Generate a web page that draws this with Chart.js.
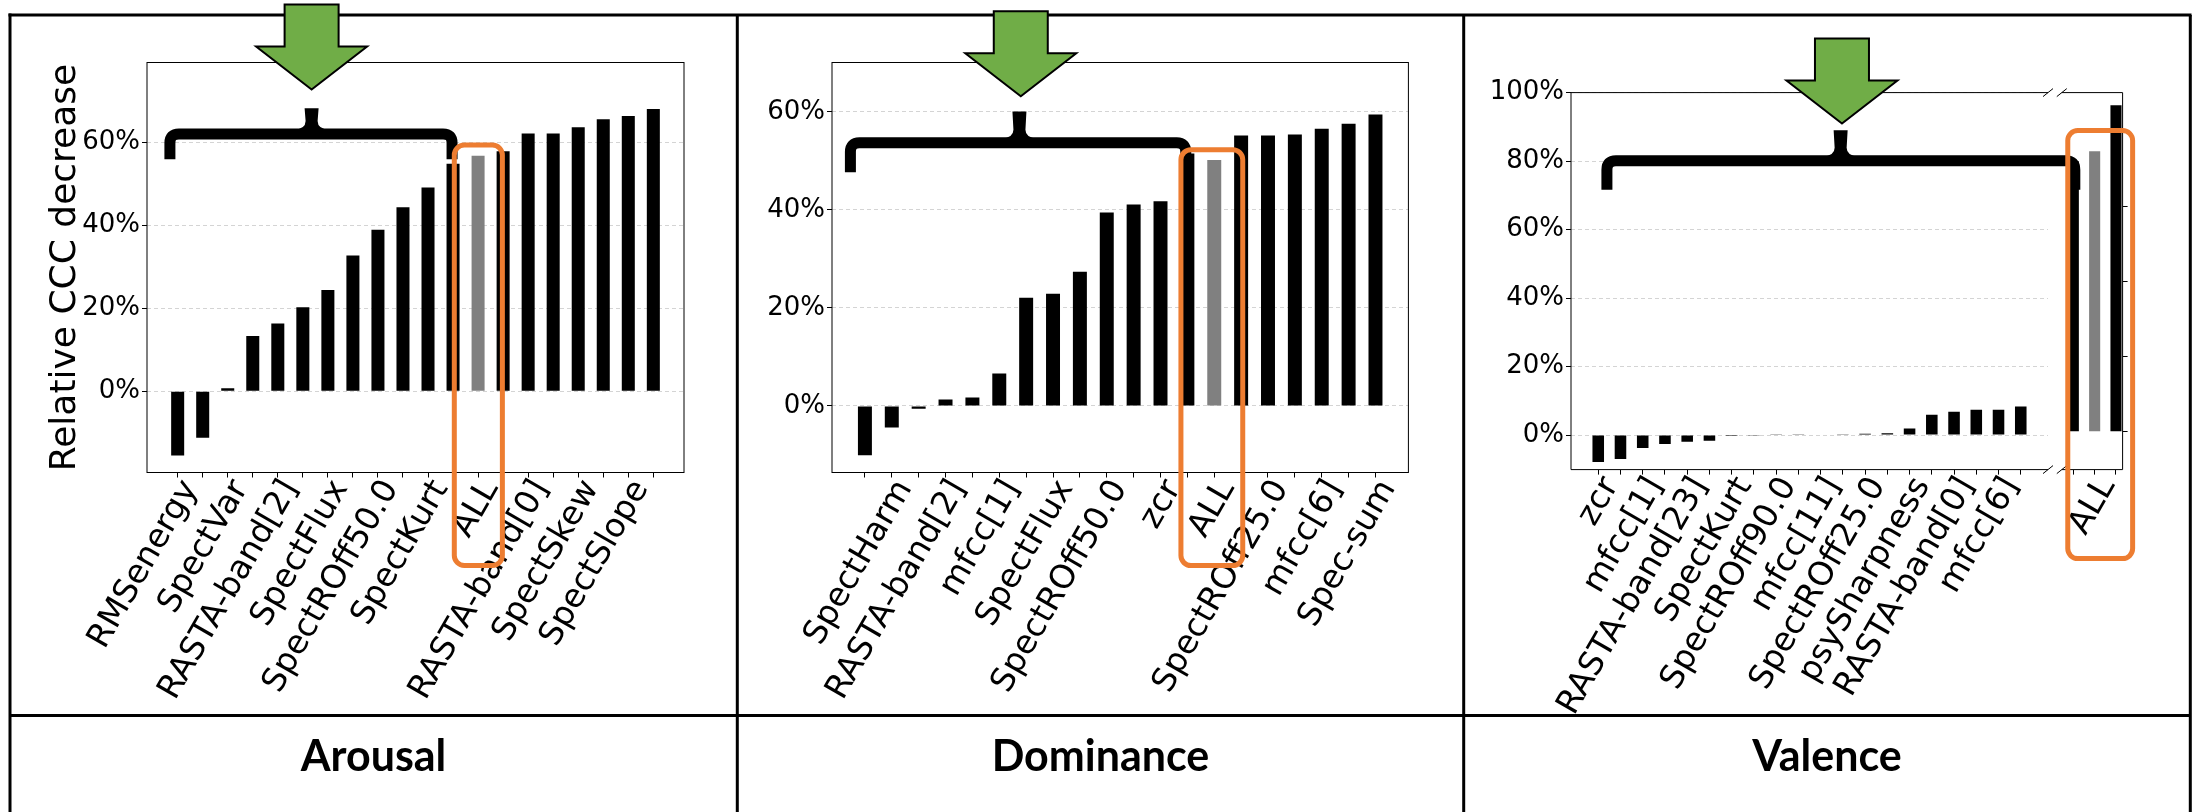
<!DOCTYPE html>
<html>
<head>
<meta charset="utf-8">
<script src="https://cdn.jsdelivr.net/npm/chart.js@4.4.1/dist/chart.umd.min.js"></script>
<style>
  html, body { margin: 0; padding: 0; background: #fff; }
  #page { position: relative; width: 2192px; height: 812px; overflow: hidden; background: #fff; }
  #page canvas { position: absolute; top: 0; }
  .cap { position: absolute; top: 733px; font: 700 43px Lato, sans-serif; line-height: 43px; text-align: center; color: #000; }
</style>
</head>
<body>
<div id="page">
  <canvas id="arousalChart" width="737" height="715" style="left:0px"></canvas>
  <canvas id="dominanceChart" width="727" height="715" style="left:737px"></canvas>
  <canvas id="valenceChart" width="728" height="715" style="left:1464px"></canvas>
  <canvas id="valenceAllChart" width="728" height="715" style="left:1464px"></canvas>
  <canvas id="overlay" width="2192" height="812" style="left:0px"></canvas>
  <div class="cap" style="left:10px;width:727px">Arousal</div>
  <div class="cap" style="left:737px;width:727px">Dominance</div>
  <div class="cap" style="left:1464px;width:726px">Valence</div>
</div>
<script>
// Arousal: features sorted by relative CCC decrease (only every other name is printed)
const arousalFeatures = ['RMSenergy', '', 'SpectVar', '', 'RASTA-band[2]', '', 'SpectFlux', '', 'SpectROff50.0', '',
  'SpectKurt', '', 'ALL', '', 'RASTA-band[0]', '', 'SpectSkew', '', 'SpectSlope', '']
const arousalValues = [-15.5, -11.2, 0.7, 13.3, 16.3, 20.2, 24.4, 32.7, 38.9, 44.3,
  49.1, 54.8, 56.7, 57.8, 62.1, 62.1, 63.6, 65.5, 66.3, 68.0]
const arousalTicks = [0, 20, 40, 60]

// Dominance
const dominanceFeatures = ['', 'SpectHarm', '', 'RASTA-band[2]', '', 'mfcc[1]', '', 'SpectFlux', '', 'SpectROff50.0',
  '', 'zcr', '', 'ALL', '', 'SpectROff25.0', '', 'mfcc[6]', '', 'Spec-sum']
const dominanceValues = [-10.1, -4.4, -0.6, 1.3, 1.7, 6.6, 22.1, 22.9, 27.4, 39.5,
  41.1, 41.8, 51.5, 50.2, 55.2, 55.2, 55.4, 56.6, 57.6, 59.5]
const dominanceTicks = [0, 20, 40, 60]

// Valence (broken x axis: 20 single features, then the 3 right-hand bars)
const valenceFeatures = ['zcr', '', 'mfcc[1]', '', 'RASTA-band[23]', '', 'SpectKurt', '', 'SpectROff90.0', '',
  'mfcc[11]', '', 'SpectROff25.0', '', 'psySharpness', '', 'RASTA-band[0]', '', 'mfcc[6]', '']
const valenceValues = [-7.9, -7.0, -3.8, -2.6, -2.0, -1.7, -0.3, -0.2, 0.05, 0.1,
  0.15, 0.25, 0.4, 0.5, 1.9, 5.9, 6.8, 7.4, 7.4, 8.3]
const valenceTicks = [0, 20, 40, 60, 80, 100]
const valenceAllFeatures = ['', 'ALL', '']
const valenceAllValues = [72, 74.7, 86.9]
const valenceAllTicks = [0, 20, 40, 60, 80]

const BLACK = '#000000'
const GRAY = '#808080'
const GREEN = '#70AD47'
const ORANGE = '#ED7D31'

Chart.defaults.font.family = "'DejaVu Sans', sans-serif"
Chart.defaults.color = '#000'

function makeBarChart(id, cfg) {
  const ctx = document.getElementById(id).getContext('2d')
  return new Chart(ctx, {
    type: 'bar',
    data: {
      datasets: [{
        data: cfg.values.map((v, i) => ({ x: i, y: v })),
        backgroundColor: cfg.features.map((f) => (f === 'ALL' ? GRAY : BLACK)),
        barPercentage: 0.52,
        categoryPercentage: 1,
      }],
    },
    options: {
      responsive: false,
      animation: false,
      events: [],
      layout: { autoPadding: false, padding: cfg.padding },
      plugins: { legend: { display: false }, tooltip: { enabled: false } },
      scales: {
        x: {
          type: 'linear',
          min: cfg.xMin,
          max: cfg.xMax,
          offset: false,
          grid: { offset: false, drawOnChartArea: false, tickLength: 5, tickColor: BLACK, tickWidth: 1 },
          border: { display: false },
          afterBuildTicks: (s) => { s.ticks = cfg.values.map((_, i) => ({ value: i })) },
          ticks: {
            autoSkip: false, minRotation: 60, maxRotation: 60, padding: -4, labelOffset: 13,
            font: { size: 33 }, color: BLACK,
            callback: (v) => cfg.features[v] || '',
          },
          afterFit: (s) => { s.height = cfg.xAxisH; s.paddingLeft = 0; s.paddingRight = 0 },
        },
        y: {
          min: cfg.yMin,
          max: cfg.yMax,
          position: cfg.yRight ? 'right' : 'left',
          afterBuildTicks: (s) => { s.ticks = cfg.ticks.map((v) => ({ value: v })) },
          ticks: { display: !cfg.yRight, padding: 2, font: { size: 26 }, color: BLACK, callback: (v) => v + '%' },
          grid: { drawOnChartArea: !cfg.yRight, color: '#d4d4d4', lineWidth: 1, tickLength: 5, tickColor: BLACK },
          border: { display: false, dash: [4, 3] },
          title: cfg.yTitle
            ? { display: true, text: cfg.yTitle, font: { size: 36 }, color: BLACK, padding: { top: 44, bottom: 0 } }
            : { display: false },
          afterFit: (s) => { s.width = cfg.yAxisW; s.paddingTop = 0; s.paddingBottom = 0 },
        },
      },
    },
  })
}

const arousalChart = makeBarChart('arousalChart', {
  features: arousalFeatures, values: arousalValues, ticks: arousalTicks,
  yMin: -19.6, yMax: 79.2, xMin: -1.225, xMax: 20.225,
  padding: { left: 0, right: 53, top: 62.5, bottom: 0 }, yAxisW: 147, xAxisH: 242.5,
  yTitle: 'Relative CCC decrease',
})
const dominanceChart = makeBarChart('dominanceChart', {
  features: dominanceFeatures, values: dominanceValues, ticks: dominanceTicks,
  yMin: -13.6, yMax: 70.1, xMin: -1.225, xMax: 20.225,
  padding: { left: 0, right: 55.6, top: 62.5, bottom: 0 }, yAxisW: 95, xAxisH: 242.5,
})
const valenceChart = makeBarChart('valenceChart', {
  features: valenceFeatures, values: valenceValues, ticks: valenceTicks,
  yMin: -10.1, yMax: 100, xMin: -1.225, xMax: 20.225,
  padding: { left: 0, right: 144, top: 92.6, bottom: 0 }, yAxisW: 107, xAxisH: 245.4,
})
const valenceAllChart = makeBarChart('valenceAllChart', {
  features: valenceAllFeatures, values: valenceAllValues, ticks: valenceAllTicks,
  yMin: -10.1, yMax: 90.3, xMin: -0.54, xMax: 2.31,
  padding: { left: 597.8, right: 61.4, top: 92.6, bottom: 0 }, yAxisW: 8, xAxisH: 245.4, yRight: true,
})

// ---- overlay: table frame, axes boxes, braces, arrows, highlight boxes ----
const ov = document.getElementById('overlay').getContext('2d')

function pt(chart, left, xv, yv) {
  return [left + chart.scales.x.getPixelForValue(xv), chart.scales.y.getPixelForValue(yv)]
}

function line(x0, y0, x1, y1, w) {
  ov.lineWidth = w
  ov.beginPath()
  ov.moveTo(x0, y0)
  ov.lineTo(x1, y1)
  ov.stroke()
}

function drawBrace(x0, x1, xc, yBar, yEnd, yTip) {
  const r = 9
  ov.save()
  ov.strokeStyle = BLACK
  ov.lineWidth = 11
  ov.lineJoin = 'round'
  ov.beginPath()
  ov.moveTo(x0, yEnd)
  ov.lineTo(x0, yBar + r)
  ov.quadraticCurveTo(x0, yBar, x0 + r, yBar)
  ov.lineTo(x1 - r, yBar)
  ov.quadraticCurveTo(x1, yBar, x1, yBar + r)
  ov.lineTo(x1, yEnd)
  ov.stroke()
  const top = yBar - 5
  ov.beginPath()
  ov.moveTo(xc - 18, top + 1)
  ov.quadraticCurveTo(xc - 6, top, xc - 6, top - 8)
  ov.lineTo(xc - 7, yTip)
  ov.lineTo(xc + 7, yTip)
  ov.lineTo(xc + 6, top - 8)
  ov.quadraticCurveTo(xc + 6, top, xc + 18, top + 1)
  ov.closePath()
  ov.fillStyle = BLACK
  ov.fill()
  ov.restore()
}

function drawArrow(tx, ty) {
  const headH = 43, headW = 111, shaftW = 54, shaftH = 42
  ov.save()
  ov.beginPath()
  ov.moveTo(tx, ty)
  ov.lineTo(tx - headW / 2, ty - headH)
  ov.lineTo(tx - shaftW / 2, ty - headH)
  ov.lineTo(tx - shaftW / 2, ty - headH - shaftH)
  ov.lineTo(tx + shaftW / 2, ty - headH - shaftH)
  ov.lineTo(tx + shaftW / 2, ty - headH)
  ov.lineTo(tx + headW / 2, ty - headH)
  ov.closePath()
  ov.fillStyle = GREEN
  ov.fill()
  ov.strokeStyle = BLACK
  ov.lineWidth = 2
  ov.stroke()
  ov.restore()
}

function drawBox(x0, y0, x1, y1) {
  const r = 10
  ov.save()
  ov.strokeStyle = ORANGE
  ov.lineWidth = 5
  ov.beginPath()
  ov.moveTo(x0 + r, y0)
  ov.arcTo(x1, y0, x1, y1, r)
  ov.arcTo(x1, y1, x0, y1, r)
  ov.arcTo(x0, y1, x0, y0, r)
  ov.arcTo(x0, y0, x1, y0, r)
  ov.closePath()
  ov.stroke()
  ov.restore()
}

// table frame
ov.strokeStyle = BLACK
line(8.5, 15, 2191.5, 15, 3)
line(10, 13.5, 10, 812, 3)
line(737.3, 15, 737.3, 812, 3)
line(1463.7, 15, 1463.7, 812, 3)
line(2190.3, 15, 2190.3, 812, 3)
line(10, 715.5, 2190.3, 715.5, 3)

// plot boxes
function area(chart, left) {
  const a = chart.chartArea
  return { l: left + a.left, r: left + a.right, t: a.top, b: a.bottom }
}
const aA = area(arousalChart, 0)
const aD = area(dominanceChart, 737)
const aV = area(valenceChart, 1464)
const aW = area(valenceAllChart, 1464)
ov.strokeStyle = BLACK
ov.lineWidth = 1
ov.strokeRect(aA.l, aA.t, aA.r - aA.l, aA.b - aA.t)
ov.strokeRect(aD.l, aD.t, aD.r - aD.l, aD.b - aD.t)
line(aV.l, aV.t, aV.r, aV.t, 1)
line(aV.l, aV.b, aV.r, aV.b, 1)
line(aV.l, aV.t, aV.l, aV.b, 1)
line(aW.l, aW.t, aW.r, aW.t, 1)
line(aW.l, aW.b, aW.r, aW.b, 1)
line(aW.r, aW.t, aW.r, aW.b, 1)
// break marks
for (const x of [aV.r, aW.l]) {
  for (const y of [aV.t, aV.b]) line(x - 5, y + 4, x + 5, y - 4, 1)
}

// Arousal annotations
let p, q, c
p = pt(arousalChart, 0, -0.31, 62.0); q = pt(arousalChart, 0, 10.96, 55.9); c = pt(arousalChart, 0, 5.35, 68.2)
drawBrace(p[0], q[0], c[0], p[1], q[1], c[1])
p = pt(arousalChart, 0, 11.05, 59.3); q = pt(arousalChart, 0, 12.97, -42.0)
drawBox(p[0], p[1], q[0], q[1])
p = pt(arousalChart, 0, 5.35, 72.7)
drawArrow(p[0], p[1])

// Dominance annotations
p = pt(dominanceChart, 737, -0.54, 53.7); q = pt(dominanceChart, 737, 11.94, 47.7); c = pt(dominanceChart, 737, 5.75, 60.1)
drawBrace(p[0], q[0], c[0], p[1], q[1], c[1])
p = pt(dominanceChart, 737, 11.76, 52.3); q = pt(dominanceChart, 737, 14.06, -32.6)
drawBox(p[0], p[1], q[0], q[1])
p = pt(dominanceChart, 737, 5.8, 63.2)
drawArrow(p[0], p[1])

// Valence annotations (brace spans both parts of the broken axis)
p = pt(valenceChart, 1464, 0.39, 80.1); q = pt(valenceAllChart, 1464, 0.07, 0); c = pt(valenceChart, 1464, 10.9, 89.0)
const vEnd = pt(valenceChart, 1464, 0, 71.6)
drawBrace(p[0], q[0], c[0], p[1], vEnd[1], c[1])
p = pt(valenceAllChart, 1464, -0.26, 80.2); q = pt(valenceAllChart, 1464, 2.78, -33.8)
drawBox(p[0], p[1], q[0], q[1])
p = pt(valenceChart, 1464, 10.96, 91.0)
drawArrow(p[0], p[1])
</script>
</body>
</html>
